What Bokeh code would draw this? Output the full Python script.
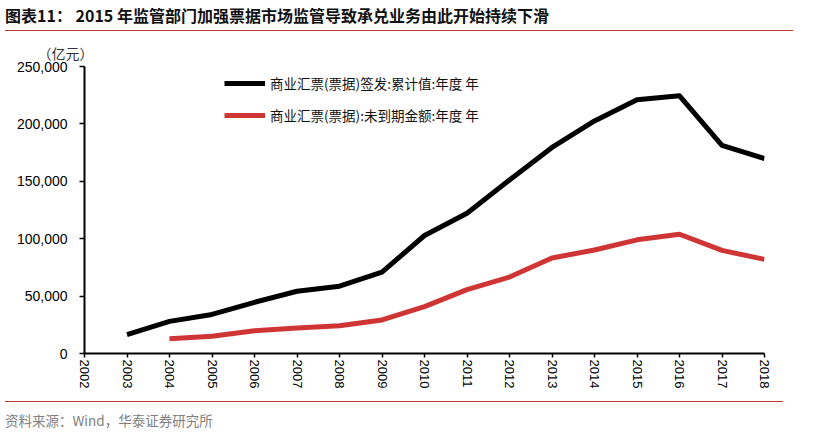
from bokeh.plotting import figure
from bokeh.models import (Range1d, FixedTicker, NumeralTickFormatter, Div, Title)
from bokeh.layouts import column
from bokeh.embed import file_html
from bokeh.resources import INLINE

# ---- data ----
tick_years = list(range(2002, 2019))
issued_years = list(range(2003, 2019))
issued = [16500, 28000, 34000, 44600, 54200, 58600, 70800, 102800,
          122200, 151200, 179500, 202600, 221000, 224500, 181200, 169800]
outstanding_years = list(range(2004, 2019))
outstanding = [12800, 15000, 19800, 22300, 24200, 29200, 40800, 55700,
               66600, 83200, 90200, 99000, 103900, 89800, 82000]
y_ticks = [0, 50000, 100000, 150000, 200000, 250000]
label_issued = "商业汇票(票据)签发:累计值:年度 年"
label_outstanding = "商业汇票(票据):未到期金额:年度 年"
title_text = "图表11：&nbsp;2015 年监管部门加强票据市场监管导致承兑业务由此开始持续下滑"
source_text = "资料来源：Wind，华泰证券研究所"
unit_text = "（亿元）"

W = 798
CJK = "Noto Sans CJK SC"
RED = "#C0392B"

title_div = Div(
    text=(f'<div style="width:788px;height:23px;margin-left:-3px;'
          f'border-bottom:1.5px solid {RED};'
          f'font-family:\'{CJK}\';font-weight:bold;font-size:16px;line-height:14px;'
          f'color:#111;white-space:nowrap;">{title_text}</div>'),
    width=W, height=25, margin=(0, 0, 0, 0))

p = figure(width=W, height=368, output_backend="svg", toolbar_location=None,
           title=None, x_range=Range1d(2002, 2018), y_range=Range1d(0, 250000),
           min_border_left=76, min_border_right=42, min_border_top=33,
           min_border_bottom=48, margin=(0, 0, 0, 0))
p.outline_line_color = None
p.xgrid.visible = False
p.ygrid.visible = False
p.background_fill_color = "white"
p.border_fill_color = "white"

p.line(issued_years, issued, line_color="black", line_width=5,
       line_join="round", legend_label=label_issued)
p.line(outstanding_years, outstanding, line_color="#D03535", line_width=5,
       line_join="round", legend_label=label_outstanding)

# axes
p.xaxis.ticker = FixedTicker(ticks=tick_years)
p.xaxis.major_label_overrides = {y: str(y) for y in tick_years}
p.xaxis.major_label_orientation = "vertical"
p.xaxis.major_label_text_font = "Liberation Sans"
p.xaxis.major_label_text_font_size = "13px"
p.xaxis.major_label_text_color = "black"
p.xaxis.major_label_standoff = 2
p.xaxis.axis_line_width = 2
p.xaxis.axis_line_color = "black"
p.xaxis.major_tick_line_width = 1.5
p.xaxis.major_tick_out = 4
p.xaxis.major_tick_in = 0
p.xaxis.minor_tick_line_color = None

p.yaxis.ticker = FixedTicker(ticks=y_ticks)
p.yaxis.formatter = NumeralTickFormatter(format="0,0")
p.yaxis.major_label_text_font = "Liberation Sans"
p.yaxis.major_label_text_font_size = "14px"
p.yaxis.major_label_text_color = "black"
p.yaxis.major_label_standoff = 12
p.yaxis.axis_line_width = 2
p.yaxis.axis_line_color = "black"
p.yaxis.major_tick_line_width = 1.5
p.yaxis.major_tick_out = 5
p.yaxis.major_tick_in = 0
p.yaxis.minor_tick_line_color = None

unit = Title(text=unit_text, align="left", offset=-47, standoff=7,
             text_font=CJK, text_font_size="14px", text_font_style="normal",
             text_color="#333333")
p.add_layout(unit, "above")

# legend
lg = p.legend[0]
lg.location = (140, 228)
lg.glyph_width = 41
lg.glyph_height = 20
lg.label_height = 20
lg.label_standoff = 5
lg.spacing = 12
lg.padding = 0
lg.margin = 0
lg.border_line_alpha = 0
lg.background_fill_alpha = 0
lg.label_text_font = CJK
lg.label_text_font_size = "13.5px"
lg.label_text_color = "#111111"

footer_div = Div(
    text=(f'<div style="width:778px;margin-left:-3px;border-top:1px solid {RED};'
          f'padding-top:10px;'
          f'font-family:\'{CJK}\';font-size:13.5px;line-height:16px;color:#808080;'
          f'white-space:nowrap;">{source_text}</div>'),
    width=W, height=30, margin=(0, 0, 0, 0))

layout = column(title_div, p, footer_div, spacing=0, margin=(8, 0, 0, 8))
open("out.html", "w").write(file_html(layout, INLINE))
